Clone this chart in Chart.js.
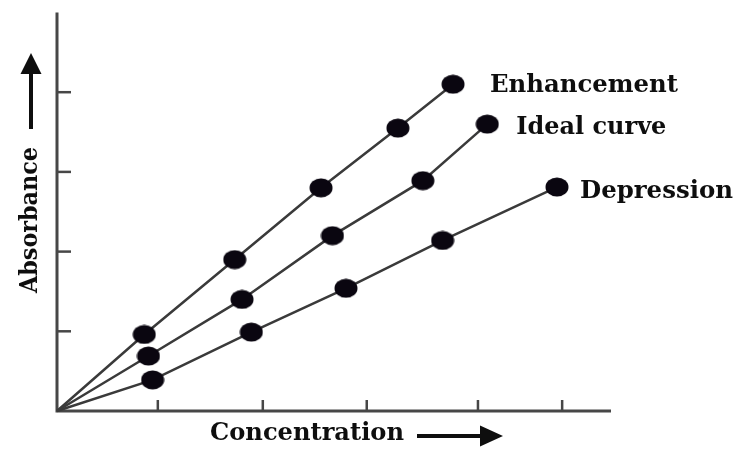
<!DOCTYPE html>
<html>
<head>
<meta charset="utf-8">
<style>
  html, body { margin: 0; padding: 0; background: #fff; }
  canvas { display: block; }
</style>
<script src="https://cdn.jsdelivr.net/npm/chart.js@4/dist/chart.umd.min.js"></script>
</head>
<body>
<canvas id="c" width="750" height="449"></canvas>
<script>
// Absorbance vs. concentration: ideal Beer-Lambert line with positive and negative deviations
const seriesNames = ['Enhancement', 'Ideal curve', 'Depression'];

const enhancementX = [0, 0.84, 1.71, 2.54, 3.28, 3.81];
const enhancementY = [0, 0.96, 1.90, 2.80, 3.55, 4.10];

const idealX = [0, 0.88, 1.78, 2.65, 3.52, 4.14];
const idealY = [0, 0.69, 1.40, 2.20, 2.89, 3.60];

const depressionX = [0, 0.92, 1.87, 2.78, 3.71, 4.81];
const depressionY = [0, 0.39, 0.99, 1.54, 2.14, 2.81];

const concentrationTicks = [0.97, 1.98, 2.98, 4.05, 4.86];
const absorbanceTicks = [1, 2, 3, 4];

const xAxisTitle = 'Concentration';
const yAxisTitle = 'Absorbance';

const toPoints = (xs, ys) => xs.map((x, i) => ({ x: x, y: ys[i] }));

// filled, slightly oval marker
function makeDot(w, h, color) {
  const c = document.createElement('canvas');
  c.width = w; c.height = h;
  const g = c.getContext('2d');
  g.fillStyle = color;
  g.beginPath();
  g.ellipse(w / 2, h / 2, w / 2 - 0.5, h / 2 - 0.5, 0, 0, Math.PI * 2);
  g.fill();
  return c;
}
const dot = makeDot(24, 20, '#0a0610');

const LABEL_FONT = 'bold 24px "DejaVu Serif", "Liberation Serif", serif';
const INK = '#0e0e0e';
const AXIS = '#474747';

// text squeezed/stretched to a given advance width
function fitText(ctx, text, x, y, width, rot) {
  ctx.save();
  ctx.translate(x, y);
  if (rot) ctx.rotate(rot);
  const m = ctx.measureText(text).width;
  ctx.scale(width / m, 1);
  ctx.fillText(text, 0, 0);
  ctx.restore();
}

const axesPlugin = {
  id: 'axesAndNotes',
  beforeDatasetsDraw(chart) {
    const { ctx, chartArea: a, scales: { x, y } } = chart;
    const x0 = x.getPixelForValue(0);
    const y0 = y.getPixelForValue(0);
    ctx.save();
    ctx.strokeStyle = AXIS;
    ctx.lineWidth = 3;
    ctx.lineCap = 'butt';
    ctx.beginPath();
    ctx.moveTo(x0, a.top);
    ctx.lineTo(x0, y0);
    ctx.lineTo(a.right, y0);
    ctx.stroke();
    // inward tick marks
    ctx.lineWidth = 2.5;
    absorbanceTicks.forEach(v => {
      const py = y.getPixelForValue(v);
      ctx.beginPath();
      ctx.moveTo(x0, py);
      ctx.lineTo(x0 + 14, py);
      ctx.stroke();
    });
    concentrationTicks.forEach(v => {
      const px = x.getPixelForValue(v);
      ctx.beginPath();
      ctx.moveTo(px, y0);
      ctx.lineTo(px, y0 - 11);
      ctx.stroke();
    });
    ctx.restore();
  },
  afterDraw(chart) {
    const { ctx } = chart;
    ctx.save();
    ctx.fillStyle = INK;
    ctx.font = LABEL_FONT;
    ctx.textBaseline = 'alphabetic';
    ctx.textAlign = 'left';

    // series names next to the last point of each line
    const offsets = [[37, 8], [29, 10], [23, 11]];
    const widths = [188, 150, 153];
    chart.data.datasets.forEach((ds, i) => {
      const meta = chart.getDatasetMeta(i);
      const last = meta.data[meta.data.length - 1];
      fitText(ctx, ds.label, last.x + offsets[i][0], last.y + offsets[i][1], widths[i]);
    });

    // axis titles
    fitText(ctx, xAxisTitle, 210, 440, 194);
    fitText(ctx, yAxisTitle, 37, 293, 146, -Math.PI / 2);

    // direction arrows
    ctx.strokeStyle = INK;
    ctx.lineWidth = 4;
    ctx.beginPath();
    ctx.moveTo(417, 436);
    ctx.lineTo(484, 436);
    ctx.stroke();
    ctx.beginPath();
    ctx.moveTo(503, 436);
    ctx.lineTo(480, 425.5);
    ctx.lineTo(480, 446.5);
    ctx.closePath();
    ctx.fill();

    ctx.beginPath();
    ctx.moveTo(31, 129);
    ctx.lineTo(31, 70);
    ctx.stroke();
    ctx.beginPath();
    ctx.moveTo(31, 53);
    ctx.lineTo(20.5, 74);
    ctx.lineTo(41.5, 74);
    ctx.closePath();
    ctx.fill();
    ctx.restore();
  }
};

const lineStyle = {
  borderColor: '#3a3a3a',
  borderWidth: 2.5,
  tension: 0,
  fill: false,
  clip: false,
  pointStyle: dot,
  pointRadius: ctx => (ctx.dataIndex === 0 ? 0 : 10),
  pointHoverRadius: ctx => (ctx.dataIndex === 0 ? 0 : 10)
};

new Chart(document.getElementById('c'), {
  type: 'line',
  data: {
    datasets: [
      Object.assign({ label: seriesNames[0], data: toPoints(enhancementX, enhancementY) }, lineStyle),
      Object.assign({ label: seriesNames[1], data: toPoints(idealX, idealY) }, lineStyle),
      Object.assign({ label: seriesNames[2], data: toPoints(depressionX, depressionY) }, lineStyle)
    ]
  },
  options: {
    responsive: false,
    animation: false,
    events: [],
    layout: { padding: { left: 57, right: 139, top: 10, bottom: 38 } },
    plugins: { legend: { display: false }, tooltip: { enabled: false }, title: { display: false } },
    scales: {
      x: { type: 'linear', min: 0, max: 5.33, display: false },
      y: { type: 'linear', min: 0, max: 5.0, display: false }
    }
  },
  plugins: [axesPlugin]
});
</script>
</body>
</html>
